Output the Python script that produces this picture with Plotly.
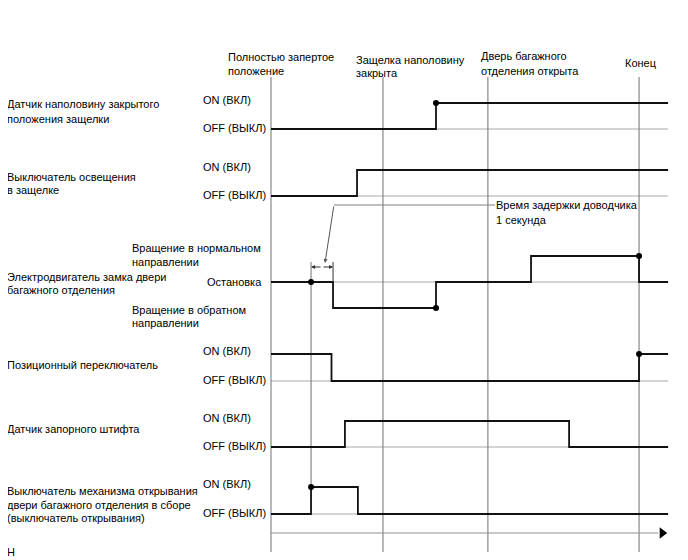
import plotly.graph_objects as go

# ---------------- data (time in seconds, state levels) ----------------
T_END = 18.05
EVENT_TIMES = [0.0, 5.09, 9.86, 16.73]
EVENT_LABELS = [["Полностью запертое", "положение"],
                ["Защелка наполовину", "закрыта"],
                ["Дверь багажного", "отделения открыта"],
                ["Конец"]]

SIGNAL_NAMES = [
    ["Датчик наполовину закрытого", "положения защелки"],
    ["Выключатель освещения", "в защелке"],
    ["Электродвигатель замка двери", "багажного отделения"],
    ["Позиционный переключатель"],
    ["Датчик запорного штифта"],
    ["Выключатель механизма открывания", "двери багажного отделения в сборе", "(выключатель открывания)"],
]

half_latch_t = [0.0, 7.50, T_END]
half_latch_s = [0, 1, 1]
courtesy_t = [0.0, 3.91, T_END]
courtesy_s = [0, 1, 1]
motor_t = [0.0, 2.82, 7.50, 11.82, 16.73, T_END]
motor_s = [0, -1, 0, 1, 0, 0]
position_t = [0.0, 2.75, 16.73, T_END]
position_s = [1, 0, 1, 1]
pin_t = [0.0, 3.36, 13.55, T_END]
pin_s = [0, 1, 0, 0]
opener_t = [0.0, 1.82, 3.95, T_END]
opener_s = [0, 1, 0, 0]

OPENER_ON_T = 1.82
DELAY_S = 1.0
DELAY_TEXT = ["Время задержки доводчика", "1 секунда"]

# dots (signal index, time, state)
DOTS = [(0, 7.50, 1), (2, 1.82, 0), (2, 7.50, -1), (2, 16.73, 1), (3, 16.73, 1), (5, 1.82, 1)]

# ---------------- layout parameters ----------------
PAGE_W, PAGE_H = 688, 560
OFF = 8                      # browser body margin
W, H = PAGE_W - OFF, PAGE_H - OFF
PX_PER_S = 22.0
X0_PX = 271
ROW_BASE = [129, 196, 282, 381, 447, 514]
AMP = [26, 26, 26, 27, 26, 27]
AXIS_Y = 533
FONT = "Liberation Sans, Arial, sans-serif"
FS = 11
TXT_DX = -3
LEFT_X = 5 - TXT_DX          # left-most labels: as far left as the page allows

def ylev(i, s):
    return ROW_BASE[i] - s * AMP[i]

fig = go.Figure()

def add_line(x, y, color="#000", width=1.0, shape="linear"):
    fig.add_trace(go.Scatter(x=x, y=y, mode="lines", line=dict(color=color, width=width, shape=shape),
                             hoverinfo="skip", showlegend=False))

# gray baselines
for i, b in enumerate(ROW_BASE):
    add_line([0, T_END], [b, b], color="#a8a8a8", width=1)

# event vertical lines
for t in EVENT_TIMES:
    add_line([t, t], [77, 552], color="#707070", width=1)
# opener vertical line
add_line([OPENER_ON_T, OPENER_ON_T], [262, ylev(5, 1)], color="#707070", width=1)

# time axis
add_line([0, T_END - 0.45], [AXIS_Y, AXIS_Y], color="#909090", width=1)
fig.add_trace(go.Scatter(x=[T_END - 0.27], y=[AXIS_Y], mode="markers",
                         marker=dict(symbol="triangle-right", size=10, color="#000"),
                         hoverinfo="skip", showlegend=False))

# signals
sigs = [(half_latch_t, half_latch_s), (courtesy_t, courtesy_s), (motor_t, motor_s),
        (position_t, position_s), (pin_t, pin_s), (opener_t, opener_s)]
for i, (ts, ss) in enumerate(sigs):
    add_line(ts, [ylev(i, s) for s in ss], color="#111", width=1.8, shape="hv")

# dots
fig.add_trace(go.Scatter(x=[d[1] for d in DOTS], y=[ylev(d[0], d[2]) for d in DOTS], mode="markers",
                         marker=dict(size=6, color="#000"), hoverinfo="skip", showlegend=False))

# delay bracket
t1 = OPENER_ON_T + DELAY_S
add_line([t1, t1], [262, ROW_BASE[2]], color="#333", width=1)
tm = (OPENER_ON_T + t1) / 2
for tip in (OPENER_ON_T, t1):
    fig.add_annotation(x=tip, y=267, ax=tm, ay=267, xref="x", yref="y", axref="x", ayref="y",
                       text="", showarrow=True, arrowhead=2, arrowsize=0.8, arrowwidth=1, arrowcolor="#333")
# leader
lead_t = t1 + 0.04
add_line([lead_t, (495 - X0_PX) / PX_PER_S], [205, 205], color="#808080", width=1)
fig.add_annotation(x=(325 - X0_PX) / PX_PER_S, y=263, ax=lead_t, ay=205, xref="x", yref="y",
                   axref="x", ayref="y", text="", showarrow=True, arrowhead=2, arrowsize=0.8,
                   arrowwidth=1, arrowcolor="#555")

def label(xpx, ypx, text, anchor="left"):
    fig.add_annotation(x=(xpx + TXT_DX - OFF) / W, y=ypx, xref="paper", yref="y", text=text,
                       showarrow=False, xanchor=anchor, yanchor="middle",
                       font=dict(family=FONT, size=FS, color="#000"))

for j, ln in enumerate(DELAY_TEXT):
    label(497, 205 + 15 * j, ln)

# top event labels
top_pos = [(229, [57, 71]), (357, [60, 73]), (482, [56, 71]), (626, [63])]
for (xp, ys), lines in zip(top_pos, EVENT_LABELS):
    for y, ln in zip(ys, lines):
        label(xp, y, ln)

# signal names
name_y = [[104, 119], [177, 190], [277, 290], [365], [429], [491, 505, 518]]
for ys, lines in zip(name_y, SIGNAL_NAMES):
    for y, ln in zip(ys, lines):
        label(LEFT_X, y, ln)

# level labels
for i in (0, 1, 3, 4, 5):
    label(204, ylev(i, 1) - 3, "ON (ВКЛ)")
    label(204, ylev(i, 0) - 1, "OFF (ВЫКЛ)")
label(133, 248, "Вращение в нормальном")
label(133, 262, "направлении")
label(208, 282, "Остановка")
label(133, 310, "Вращение в обратном")
label(133, 323, "направлении")
label(LEFT_X, 552, "H")

fig.update_layout(width=W, height=H, autosize=False, margin=dict(l=0, r=0, t=0, b=0),
                  paper_bgcolor="white", plot_bgcolor="white",
                  xaxis=dict(range=[(OFF - X0_PX) / PX_PER_S, (PAGE_W - X0_PX) / PX_PER_S],
                             visible=False, fixedrange=True),
                  yaxis=dict(range=[PAGE_H, OFF], visible=False, fixedrange=True))
fig.write_html("out.html")
